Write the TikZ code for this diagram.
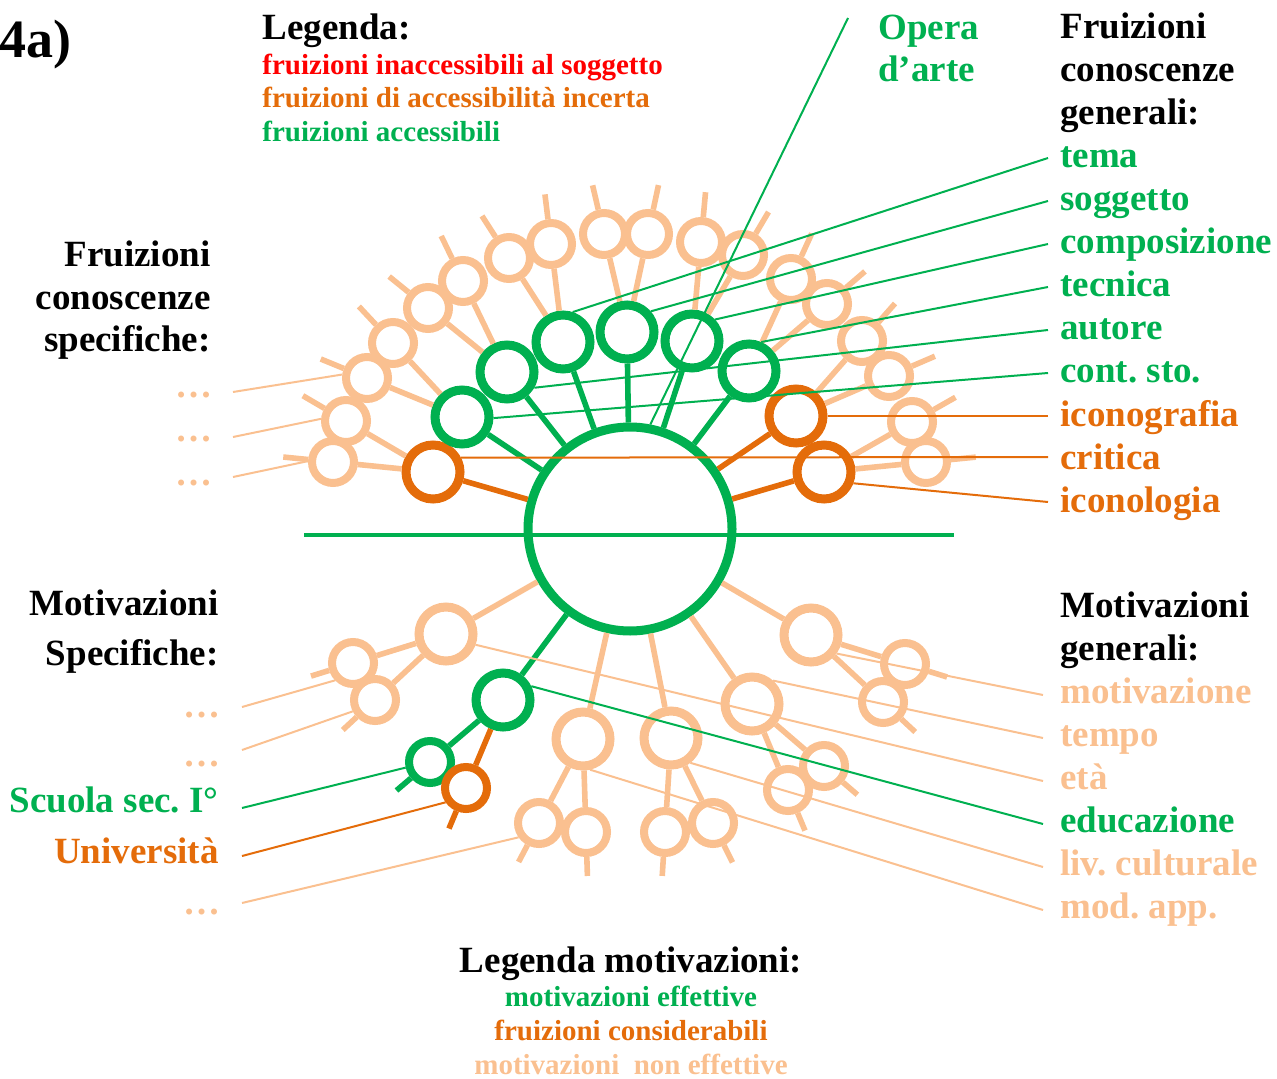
\documentclass[tikz,border=0pt]{standalone}
\usepackage{fontspec}
\setmainfont{Liberation Serif}
\usetikzlibrary{calc}
\definecolor{accgreen}{HTML}{00B050}
\definecolor{uncorange}{HTML}{E46C0A}
\definecolor{peach}{HTML}{FAC090}
\definecolor{inred}{HTML}{FF0000}
\frenchspacing

\begin{document}
\begin{tikzpicture}[x=0.5pt,y=-0.5pt,
  hub/.style={circle,draw=accgreen,line width=4.5pt,minimum size=102pt,inner sep=0pt},
  bigring/.style={circle,draw=#1,line width=4.5pt,minimum size=27pt,inner sep=0pt},
  smallring/.style={circle,draw=#1,line width=4pt,minimum size=21pt,inner sep=0pt},
  branch/.style={draw=#1,line width=2.8pt},
  leader/.style={draw=#1,line width=1pt},
  headtxt/.style={font=\bfseries\fontsize{18.5}{21.5}\selectfont,inner sep=0pt},
  legtxt/.style={font=\bfseries\fontsize{14.5}{16.5}\selectfont,inner sep=0pt},
]
\useasboundingbox (0,0) rectangle (1277,1079);

% central work of art and horizontal divider
\node[hub] (hub) at (630,529) {};
\coordinate (axisL) at (304,535);
\coordinate (axisR) at (954,535);
\draw[line width=1.75pt,accgreen] (axisL) -- (axisR);

% upper first ring: knowledge fruitions
\foreach \nm/\col/\x/\y in {ko1/uncorange/433/472, g1/accgreen/462/417, g2/accgreen/507/372,
    g3/accgreen/563/342, g4/accgreen/627/332, g5/accgreen/692/341, g6/accgreen/749/371,
    o2/uncorange/796/416, o3/uncorange/824/472}{
  \node[bigring=\col] (\nm) at (\x,\y) {};
  \draw[branch=\col] (hub) -- (\nm);
}

% lower first ring: motivations
\foreach \nm/\col/\x/\y in {p1/peach/446/634, ed/accgreen/503/700, p2/peach/583/739,
    p3/peach/671/738, p4/peach/752/704, p5/peach/811/635}{
  \node[bigring=\col] (\nm) at (\x,\y) {};
  \draw[branch=\col] (hub) -- (\nm);
}

% second ring: specific items, each with an open stub
\foreach \up/\nm/\col/\x/\y/\len in {
    ko1/u1/peach/333/462/25pt, ko1/u2/peach/346/421/25pt,
    g1/u3/peach/367/378/25pt, g1/u4/peach/393/343/25pt,
    g2/u5/peach/428/308/25pt, g2/u6/peach/463/281/25pt,
    g3/u7/peach/509/258/25pt, g3/u8/peach/551/244/25pt,
    g4/u9/peach/604/234/25pt, g4/u10/peach/648/234/25pt,
    g5/u11/peach/701/242/25pt, g5/u12/peach/743/255/25pt,
    g6/u13/peach/791/279/25pt, g6/u14/peach/827/304/25pt,
    o2/u15/peach/862/341/25pt, o2/u16/peach/889/376/25pt,
    o3/u17/peach/912/422/25pt, o3/u18/peach/926/462/25pt,
    p1/l1/peach/353/663/22pt, p1/l2/peach/375/700/22pt,
    ed/sg/accgreen/430/762/22pt, ed/so/uncorange/466/788/22pt,
    p2/l3/peach/539/823/22pt, p2/l4/peach/586/832/22pt,
    p3/l5/peach/665/832/22pt, p3/l6/peach/713/823/22pt,
    p4/l7/peach/788/790/22pt, p4/l8/peach/824/766/22pt,
    p5/l9/peach/883/702/22pt, p5/l10/peach/905/664/22pt}{
  \node[smallring=\col] (\nm) at (\x,\y) {};
  \draw[branch=\col] (\up) -- (\nm);
  \draw[branch=\col] (\nm) -- ($(\nm)!-\len!(\up)$);
}

% titles and legends
\node[headtxt,anchor=base west,font=\bfseries\fontsize{27}{30}\selectfont] (fig) at (-1,58) {4a)};
\node[headtxt,anchor=base west] (leg) at (262,40) {Legenda:};
\node[legtxt,anchor=base west,text=inred] (legA) at (262,75) {fruizioni inaccessibili al soggetto};
\node[legtxt,anchor=base west,text=uncorange] (legB) at (262,108) {fruizioni di accessibilità incerta};
\node[legtxt,anchor=base west,text=accgreen] (legC) at (262,142) {fruizioni accessibili};

\node[headtxt,anchor=base west,text=accgreen] (opera) at (878,40) {Opera};
\node[headtxt,anchor=base west,text=accgreen] (arte) at (878,82) {d’arte};

\foreach \i/\nm/\col/\txt in {0/rA/black/Fruizioni, 1/rB/black/conoscenze, 2/rC/black/generali:,
    3/tema/accgreen/tema, 4/sogg/accgreen/soggetto, 5/comp/accgreen/composizione,
    6/tecn/accgreen/tecnica, 7/aut/accgreen/autore, 8/cont/accgreen/cont. sto.,
    9/icgr/uncorange/iconografia, 10/crit/uncorange/critica, 11/iclg/uncorange/iconologia}
  \node[headtxt,anchor=base west,text=\col] (\nm) at (1060,{39+43*\i}) {\txt};

\foreach \i/\nm/\col/\txt in {0/mA/black/Motivazioni, 1/mB/black/generali:,
    2/mot/peach/motivazione, 3/temp/peach/tempo, 4/eta/peach/età,
    5/educ/accgreen/educazione, 6/liv/peach/liv. culturale, 7/mod/peach/mod. app.}
  \node[headtxt,anchor=base west,text=\col] (\nm) at (1060,{617+43*\i}) {\txt};

\node[headtxt,anchor=base east] (lA) at (211,267) {Fruizioni};
\node[headtxt,anchor=base east] (lB) at (211,310) {conoscenze};
\node[headtxt,anchor=base east] (lC) at (211,352) {specifiche:};
\node[headtxt,anchor=base east,text=peach] (d1) at (213,398) {…};
\node[headtxt,anchor=base east,text=peach] (d2) at (213,441) {…};
\node[headtxt,anchor=base east,text=peach] (d3) at (213,485) {…};

\node[headtxt,anchor=base east] (sA) at (219,615) {Motivazioni};
\node[headtxt,anchor=base east] (sB) at (219,665) {Specifiche:};
\node[headtxt,anchor=base east,text=peach] (d4) at (221,717) {…};
\node[headtxt,anchor=base east,text=peach] (d5) at (221,766) {…};
\node[headtxt,anchor=base east,text=accgreen] (scu) at (219,812) {Scuola sec. I°};
\node[headtxt,anchor=base east,text=uncorange] (uni) at (219,863) {Università};
\node[headtxt,anchor=base east,text=peach] (d6) at (221,914) {…};

\node[headtxt,anchor=base] (bA) at (631,972) {Legenda motivazioni:};
\node[legtxt,anchor=base,text=accgreen] (bB) at (631,1006) {motivazioni effettive};
\node[legtxt,anchor=base,text=uncorange] (bC) at (631,1040) {fruizioni considerabili};
\node[legtxt,anchor=base,text=peach] (bD) at (631,1074) {motivazioni~~non effettive};

% leader lines from the labels to their rings
\draw[leader=accgreen] ([xshift=-15pt,yshift=11pt]opera.base west) -- (hub.79);
\draw[leader=accgreen] ([xshift=-6pt,yshift=5pt]tema.base west) -- (g3.72);
\draw[leader=accgreen] ([xshift=-6pt,yshift=5pt]sogg.base west) -- (g4.41);
\draw[leader=accgreen] ([xshift=-6pt,yshift=5pt]comp.base west) -- (g5.43);
\draw[leader=accgreen] ([xshift=-6pt,yshift=5pt]tecn.base west) -- (g6.67);
\draw[leader=accgreen] ([xshift=-6pt,yshift=5pt]aut.base west) -- (g2.-30);
\draw[leader=accgreen] ([xshift=-6pt,yshift=5pt]cont.base west) -- (g1.-2);
\draw[leader=uncorange] ([xshift=-6pt,yshift=5pt]icgr.base west) -- (o2.0);
\draw[leader=uncorange] ([xshift=-6pt,yshift=6pt]crit.base west) -- (ko1.27);
\draw[leader=uncorange] ([xshift=-6pt,yshift=5pt]iclg.base west) -- (o3.-21);

\draw[leader=peach] ([xshift=-8.5pt,yshift=4pt]mot.base west) -- (p5.-36);
\draw[leader=peach] ([xshift=-8.5pt,yshift=4pt]temp.base west) -- (p4.48);
\draw[leader=peach] ([xshift=-8.5pt,yshift=4pt]eta.base west) -- (p1.-20);
\draw[leader=accgreen] ([xshift=-8.5pt,yshift=4pt]educ.base west) -- (ed.26);
\draw[leader=peach] ([xshift=-8.5pt,yshift=4pt]liv.base west) -- (p3.-52);
\draw[leader=peach] ([xshift=-8.5pt,yshift=4pt]mod.base west) -- (p2.-77);

\draw[leader=peach] ([xshift=10pt,yshift=3pt]d1.base east) -- (u3.172);
\draw[leader=peach] ([xshift=10pt,yshift=2pt]d2.base east) -- (u2.175);
\draw[leader=peach] ([xshift=10pt,yshift=4pt]d3.base east) -- (u1.178);

\draw[leader=peach] ([xshift=10.5pt,yshift=5pt]d4.base east) -- (l1.224);
\draw[leader=peach] ([xshift=10.5pt,yshift=8pt]d5.base east) -- (l2.207);
\draw[leader=accgreen] ([xshift=11.5pt,yshift=2pt]scu.base east) -- (sg.193);
\draw[leader=uncorange] ([xshift=11.5pt,yshift=3.5pt]uni.base east) -- (so.215);
\draw[leader=peach] ([xshift=10.5pt,yshift=5.5pt]d6.base east) -- (l3.215);
\end{tikzpicture}
\end{document}
